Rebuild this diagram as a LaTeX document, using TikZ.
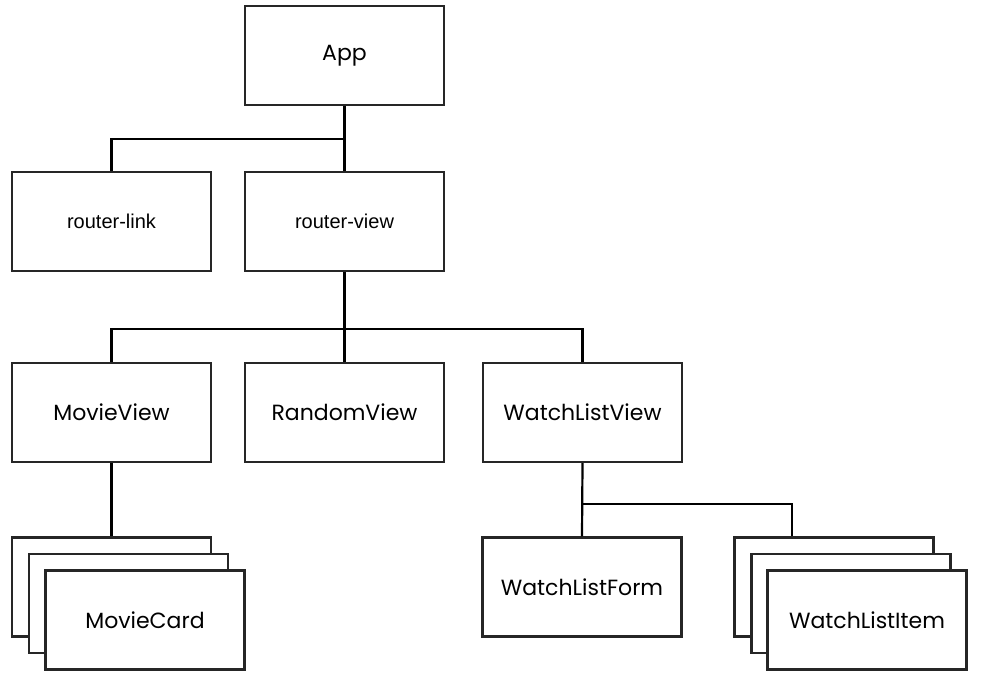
\documentclass[tikz,border=0pt]{standalone}
\usepackage{fontspec}
\setmainfont{Poppins}
\newfontfamily\routerfont{Liberation Sans}
\usetikzlibrary{positioning}

\begin{document}
\begin{tikzpicture}[x=1pt,y=-1pt,
  comp/.style={draw=black!85, line width=2.3pt, fill=white, minimum width=199pt,
    minimum height=99pt, inner sep=0pt, font=\fontsize{22}{26}\selectfont},
  routerbox/.style={comp, font=\routerfont\fontsize{20}{24}\selectfont},
  link/.style={line width=2.2pt}]
\useasboundingbox (0,0) rectangle (982,680);
% --- top: App and the router ---
\node[comp] (app) at (344.5,55.5) {App};
\node[routerbox] (rlink) at (111.5,221.5) {router-link};
\node[routerbox] (rview) at (344.5,221.5) {router-view};
\coordinate (j1) at (344.5,139);
\draw[link] (app.south) -- (rview.north);
\draw[link] (j1) -| (rlink.north);
% --- views ---
\node[comp] (movieview) at (111.5,412.5) {MovieView};
\node[comp] (randomview) at (344.5,412.5) {RandomView};
\node[comp] (wlview) at (582.5,412.5) {WatchListView};
\coordinate (j2) at (344.5,329);
\draw[link] (rview.south) -- (randomview.north);
\draw[link] (movieview.north) |- (j2) -| (wlview.north);
% --- MovieCard stack ---
\node[comp] (mcback) at (111.5,587) {};
\node[comp] (mcmid) at (128.5,603.5) {};
\node[comp] (mcard) at (145,620) {MovieCard};
\draw[link] (movieview.south) -- (mcback.north);
% --- watch list children ---
\node[comp] (wlform) at (582,587) {WatchListForm};
\node[comp] (wiback) at (834,587) {};
\node[comp] (wimid) at (851,603.5) {};
\node[comp] (witem) at (867,620) {WatchListItem};
\coordinate (j3) at (582.5,504);
\draw[link] (wlview.south) -- (wlform.north);
\draw[link] (j3) -| ([xshift=-42pt]wiback.north);
\end{tikzpicture}
\end{document}
